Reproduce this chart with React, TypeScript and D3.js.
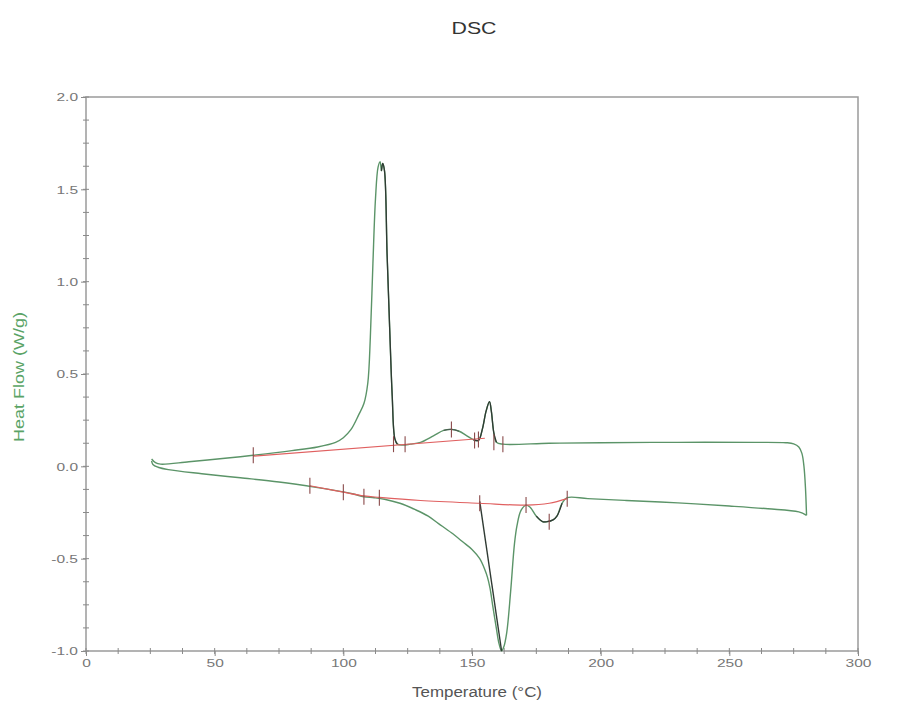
import React, { useEffect, useRef } from "react";
import * as d3 from "d3";

// heating run (upper trace)
const heatT = [25.5, 27, 29, 40, 55, 65, 80, 90, 97, 100, 103, 106, 108, 109.5, 110.5, 111.5, 112.5, 113.5, 114.3, 114.8, 115.3, 116, 117, 118, 119, 120, 121, 123, 126, 130, 135, 139, 142, 145, 148, 150.5, 152.5, 154, 155.5, 156.8, 157.5, 158.5, 159.5, 162, 180, 200, 230, 260, 272, 275, 277, 278.2, 279, 279.6, 280];
const heatHF = [0.04, 0.02, 0.012, 0.025, 0.045, 0.06, 0.085, 0.105, 0.13, 0.155, 0.2, 0.28, 0.34, 0.45, 0.7, 1.1, 1.45, 1.62, 1.65, 1.6, 1.64, 1.6, 1.15, 0.75, 0.38, 0.15, 0.12, 0.115, 0.12, 0.13, 0.165, 0.195, 0.2, 0.19, 0.165, 0.145, 0.14, 0.2, 0.3, 0.35, 0.3, 0.18, 0.13, 0.12, 0.125, 0.128, 0.13, 0.13, 0.128, 0.122, 0.105, 0.07, 0.0, -0.12, -0.265];

// cooling run (lower trace), from 280 back down
const coolT = [280, 277, 265, 250, 230, 210, 195, 187, 185, 183, 181.5, 179, 177.5, 175, 172.5, 171, 169, 167.5, 166.5, 165, 163.5, 162.3, 161.5, 160.5, 159.5, 158, 157, 156, 155, 153, 150, 146.5, 142, 137, 133, 128, 122, 116, 112, 108, 104, 100, 90, 75, 60, 45, 32, 28, 26, 25.5];
const coolHF = [-0.265, -0.247, -0.23, -0.215, -0.198, -0.185, -0.175, -0.17, -0.2, -0.27, -0.29, -0.3, -0.3, -0.27, -0.22, -0.21, -0.24, -0.32, -0.42, -0.68, -0.9, -0.98, -1.0, -0.96, -0.88, -0.75, -0.66, -0.6, -0.56, -0.5, -0.45, -0.41, -0.36, -0.31, -0.27, -0.235, -0.2, -0.178, -0.17, -0.165, -0.15, -0.138, -0.115, -0.085, -0.062, -0.04, -0.018, -0.005, 0.01, 0.03];

// integration baselines
const heatBaseT = [65, 155];
const heatBaseHF = [0.055, 0.152];
const coolBaseT = [87, 100, 108, 114, 130, 153, 171, 180, 187];
const coolBaseHF = [-0.105, -0.14, -0.16, -0.168, -0.185, -0.2, -0.21, -0.2, -0.175];

// limit markers
const markT = [65, 119.5, 124, 142, 151, 152.5, 158.5, 162, 87, 100, 108, 114, 153, 171, 180, 187];
const markHF = [0.06, 0.12, 0.12, 0.2, 0.14, 0.145, 0.13, 0.12, -0.105, -0.14, -0.165, -0.17, -0.2, -0.21, -0.3, -0.175];

// drop line of the melting peak
const dropT = [153, 161.5];
const dropHF = [-0.19, -1.0];

const xTicks = [0, 50, 100, 150, 200, 250, 300];
const yTicks = [-1.0, -0.5, 0.0, 0.5, 1.0, 1.5, 2.0];

const W = 908;
const H = 704;
const M = { left: 86, right: 50, top: 97, bottom: 53 };

const GREEN = "#5b9468";
const DARK = "#2f3a33";
const RED = "#e06060";
const STRETCH = 1.35;

const App = () => {
  const svgRef = useRef<SVGSVGElement>(null);

  useEffect(() => {
    const svg = d3.select(svgRef.current);
    svg.selectAll("*").remove();

    const x = d3.scaleLinear().domain([0, 300]).range([M.left, W - M.right]);
    const y = d3.scaleLinear().domain([-1, 2]).range([H - M.bottom, M.top]);

    const font = "'Liberation Sans', Arial, sans-serif";

    // frame
    svg
      .append("rect")
      .attr("x", x(0))
      .attr("y", y(2))
      .attr("width", x(300) - x(0))
      .attr("height", y(-1) - y(2))
      .attr("fill", "none")
      .attr("stroke", "#9a9a9a")
      .attr("stroke-width", 1.5);

    // minor ticks
    const xMinor = d3.range(0, 300.01, 12.5);
    svg
      .append("g")
      .selectAll("line")
      .data(xMinor)
      .enter()
      .append("line")
      .attr("x1", (d) => x(d))
      .attr("x2", (d) => x(d))
      .attr("y1", y(-1) - 3)
      .attr("y2", y(-1) + 3)
      .attr("stroke", "#8a8a8a");
    const yMinor = d3.range(-1, 2.001, 0.125);
    svg
      .append("g")
      .selectAll("line")
      .data(yMinor)
      .enter()
      .append("line")
      .attr("x1", x(0) - 3)
      .attr("x2", x(0) + 3)
      .attr("y1", (d) => y(d))
      .attr("y2", (d) => y(d))
      .attr("stroke", "#8a8a8a");

    // axes
    const xAxis = svg
      .append("g")
      .attr("transform", `translate(0,${y(-1)})`)
      .call(d3.axisBottom(x).tickValues(xTicks).tickSize(5).tickFormat((d) => String(d)));
    const yAxis = svg
      .append("g")
      .attr("transform", `translate(${x(0)},0)`)
      .call(
        d3
          .axisLeft(y)
          .tickValues(yTicks)
          .tickSize(5)
          .tickFormat((d) => (+d).toFixed(1))
      );
    [xAxis, yAxis].forEach((g) => {
      g.select(".domain").remove();
      g.selectAll("line").attr("stroke", "#8a8a8a");
      g.selectAll("text")
        .attr("fill", "#777")
        .style("font-family", font)
        .style("font-size", "11.5px");
    });
    // the reference lettering is wide: stretch tick labels horizontally
    yAxis.selectAll("text").attr("x", -8 / STRETCH).attr("transform", `scale(${STRETCH},1)`);
    xAxis.selectAll("text").attr("transform", `scale(${STRETCH},1)`);

    const heat = heatT.map((t, i) => [t, heatHF[i]] as [number, number]);
    const cool = coolT.map((t, i) => [t, coolHF[i]] as [number, number]);

    const line = d3
      .line<[number, number]>()
      .x((d) => x(d[0]))
      .y((d) => y(d[1]))
      .curve(d3.curveCatmullRom.alpha(0.5));

    const draw = (pts: [number, number][], color: string, w: number) =>
      svg
        .append("path")
        .attr("d", line(pts))
        .attr("fill", "none")
        .attr("stroke", color)
        .attr("stroke-width", w)
        .attr("stroke-linejoin", "round");

    draw(heat, GREEN, 1.4);
    draw(cool, GREEN, 1.4);

    // analysed segments are drawn darker
    draw(heat.filter((d) => d[0] >= 114.8 && d[0] <= 121), DARK, 1.3);
    draw(heat.filter((d) => d[0] >= 139 && d[0] <= 145), "#4a5e50", 1.2);
    draw(heat.filter((d) => d[0] >= 150.5 && d[0] <= 159.5), DARK, 1.3);
    draw(cool.filter((d) => d[0] >= 175 && d[0] <= 185), DARK, 1.2);
    draw(dropT.map((t, i) => [t, dropHF[i]] as [number, number]), DARK, 1.4);

    // baselines
    draw(heatBaseT.map((t, i) => [t, heatBaseHF[i]] as [number, number]), RED, 1.2);
    draw(coolBaseT.map((t, i) => [t, coolBaseHF[i]] as [number, number]), RED, 1.2);

    // limit markers
    svg
      .append("g")
      .selectAll("line")
      .data(markT.map((t, i) => [t, markHF[i]]))
      .enter()
      .append("line")
      .attr("x1", (d) => x(d[0]))
      .attr("x2", (d) => x(d[0]))
      .attr("y1", (d) => y(d[1]) - 8)
      .attr("y2", (d) => y(d[1]) + 8)
      .attr("stroke", "#8a4a4a")
      .attr("stroke-width", 1.1);

    // titles
    svg
      .append("text")
      .attr("x", 474)
      .attr("y", 34)
      .attr("text-anchor", "middle")
      .attr("fill", "#333")
      .attr("textLength", 45)
      .attr("lengthAdjust", "spacingAndGlyphs")
      .style("font-family", font)
      .style("font-size", "17px")
      .text("DSC");

    svg
      .append("text")
      .attr("x", 477)
      .attr("y", 697)
      .attr("text-anchor", "middle")
      .attr("fill", "#555")
      .attr("textLength", 130)
      .attr("lengthAdjust", "spacingAndGlyphs")
      .style("font-family", font)
      .style("font-size", "14px")
      .text("Temperature (°C)");

    svg
      .append("text")
      .attr("transform", `translate(24,377) rotate(-90)`)
      .attr("text-anchor", "middle")
      .attr("fill", "#5aa366")
      .attr("textLength", 130)
      .attr("lengthAdjust", "spacingAndGlyphs")
      .style("font-family", font)
      .style("font-size", "14px")
      .text("Heat Flow (W/g)");
  }, []);

  return (
    <svg
      ref={svgRef}
      width={W}
      height={H}
      style={{ position: "absolute", left: 0, top: 0, background: "#fff" }}
    />
  );
};

export default App;
